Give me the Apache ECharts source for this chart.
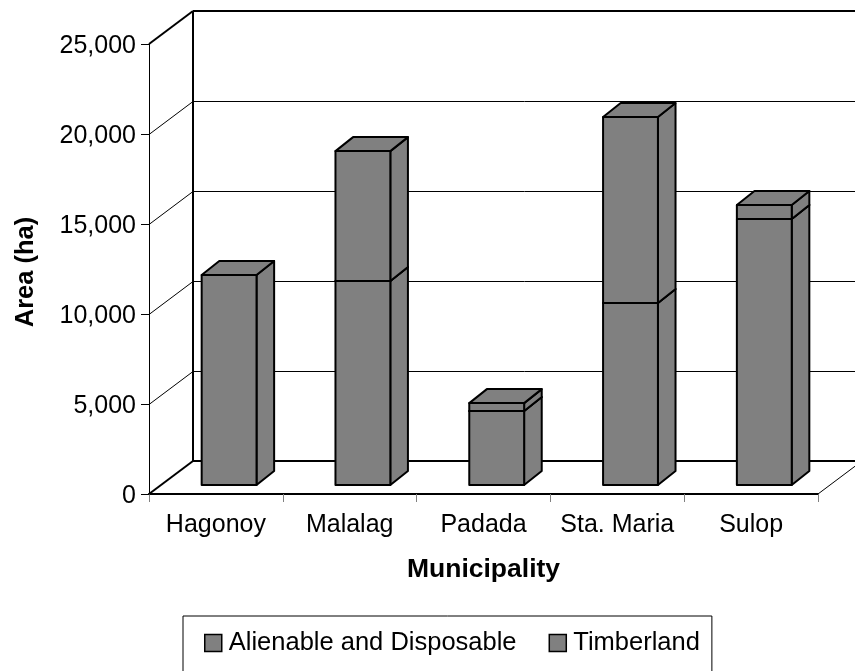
<!DOCTYPE html>
<html>
<head>
<meta charset="utf-8">
<title></title>
<style type="text/css">
  html,body{margin:0;padding:0;background:#fff;overflow:hidden}
  #main{width:855px;height:671px}
</style>
</head>
<body>
<div id="main"></div>
<script src="https://cdn.jsdelivr.net/npm/echarts@6/dist/echarts.min.js"></script>
<script type="text/javascript">
var categories = ['Hagonoy', 'Malalag', 'Padada', 'Sta. Maria', 'Sulop'];
var alienable = [11670, 11330, 4110, 10110, 14780];
var timberland = [0, 7220, 440, 10330, 780];
var yTicks = [0, 5000, 10000, 15000, 20000, 25000];

var FONT = '"Liberation Sans", Arial, sans-serif';
var GREY = '#808080';
// depth of the fake 3d box
var DX = 44, DY = -33;
var BAR_NEAR = 0.3, BAR_FAR = 0.7;

function poly(points, fill) {
  return {
    type: 'polygon',
    shape: {points: points},
    style: {fill: fill, stroke: '#000', lineWidth: 2, lineJoin: 'round'}
  };
}
function line(x1, y1, x2, y2, color, w) {
  return {
    type: 'line',
    shape: {x1: x1, y1: y1, x2: x2, y2: y2},
    style: {stroke: color, lineWidth: w}
  };
}

function renderWall(params, api) {
  var v = api.value(0);
  var p = api.coord([0, v]);
  var x0 = params.coordSys.x;
  var r = x0 + params.coordSys.width;
  var y = p[1];
  var edge = v === 0 || v === 25000;
  var w = edge ? 2 : 1;
  var off = edge ? 0 : 0.5;
  var kids = [
    line(x0, y + off, x0 + DX, y + DY + off, '#000', w),
    line(x0 + DX, y + DY + off, r + DX, y + DY + off, '#000', w)
  ];
  if (v === 0) {
    kids.push(line(x0 + DX, y + DY, x0 + DX, params.coordSys.y + DY, '#000', 2));
    kids.push(line(r, y, r + DX, y + DY, '#000', 1));
  }
  return {type: 'group', children: kids};
}

function renderBar(params, api) {
  var cat = api.value(0);
  if (api.value(1) === api.value(2)) return null;
  var low = api.coord([cat, api.value(1)]);
  var high = api.coord([cat, api.value(2)]);
  var w = api.size([1, 0])[0] * 0.41;
  var nx = DX * BAR_NEAR, ny = DY * BAR_NEAR + 0.9;
  var fx = DX * BAR_FAR - nx, fy = DY * BAR_FAR - ny + 0.1;
  var l = low[0] - w / 2 + nx;
  var r = l + w;
  var yb = low[1] + ny;
  var yt = high[1] + ny;
  return {
    type: 'group',
    children: [
      poly([[r, yb], [r + fx, yb + fy], [r + fx, yt + fy], [r, yt]], GREY),
      poly([[l, yt], [r, yt], [r + fx, yt + fy], [l + fx, yt + fy]], GREY),
      poly([[l, yb], [r, yb], [r, yt], [l, yt]], GREY)
    ]
  };
}

var chart = echarts.init(document.getElementById('main'));
chart.setOption({
  animation: false,
  backgroundColor: '#fff',
  textStyle: {fontFamily: FONT},
  grid: {left: 149, top: 44, width: 669, height: 450},
  legend: {
    left: 183,
    top: 616,
    padding: [14, 12, 40, 21],
    borderColor: '#000',
    borderWidth: 1,
    itemWidth: 17,
    itemHeight: 17,
    itemGap: 32,
    icon: 'rect',
    textStyle: {fontFamily: FONT, fontSize: 25.5, color: '#000', padding: [0, 0, 0, 2]},
    itemStyle: {borderColor: '#000', borderWidth: 1.5},
    data: ['Alienable and Disposable', 'Timberland']
  },
  xAxis: {
    type: 'category',
    data: categories,
    name: 'Municipality',
    nameLocation: 'middle',
    nameGap: 62,
    nameTextStyle: {fontFamily: FONT, fontSize: 26.5, fontWeight: 'bold', color: '#000'},
    axisLine: {lineStyle: {color: '#000', width: 2}},
    axisTick: {show: true, alignWithLabel: false, length: 8, lineStyle: {color: '#808080', width: 1}},
    axisLabel: {interval: 0, hideOverlap: false, fontFamily: FONT, fontSize: 25, color: '#000', margin: 19},
    splitLine: {show: false}
  },
  yAxis: {
    type: 'value',
    min: 0,
    max: 25000,
    interval: 5000,
    name: 'Area (ha)',
    nameLocation: 'middle',
    nameGap: 110,
    nameTextStyle: {fontFamily: FONT, fontSize: 25.5, fontWeight: 'bold', color: '#000', padding: [0, 6, 0, 0]},
    axisLine: {show: true, lineStyle: {color: '#000', width: 1}},
    axisTick: {show: true, length: 8, lineStyle: {color: '#000', width: 1}},
    axisLabel: {
      margin: 13,
      formatter: function (v) { return '{t|' + v.toLocaleString('en-US') + '}'; },
      rich: {t: {fontFamily: FONT, fontSize: 25, color: '#000', padding: [5, 0, 0, 0]}}
    },
    splitLine: {show: false}
  },
  series: [
    {
      type: 'custom',
      silent: true,
      clip: false,
      z: 1,
      renderItem: renderWall,
      encode: {y: 0},
      data: yTicks.map(function (v) { return [v]; })
    },
    {
      name: 'Alienable and Disposable',
      type: 'custom',
      clip: false,
      z: 2,
      itemStyle: {color: GREY},
      renderItem: renderBar,
      encode: {x: 0, y: 2},
      data: categories.map(function (c, i) { return [i, 0, alienable[i]]; })
    },
    {
      name: 'Timberland',
      type: 'custom',
      clip: false,
      z: 3,
      itemStyle: {color: GREY},
      renderItem: renderBar,
      encode: {x: 0, y: 2},
      data: categories.map(function (c, i) { return [i, alienable[i], alienable[i] + timberland[i]]; })
    }
  ]
});
</script>
</body>
</html>
